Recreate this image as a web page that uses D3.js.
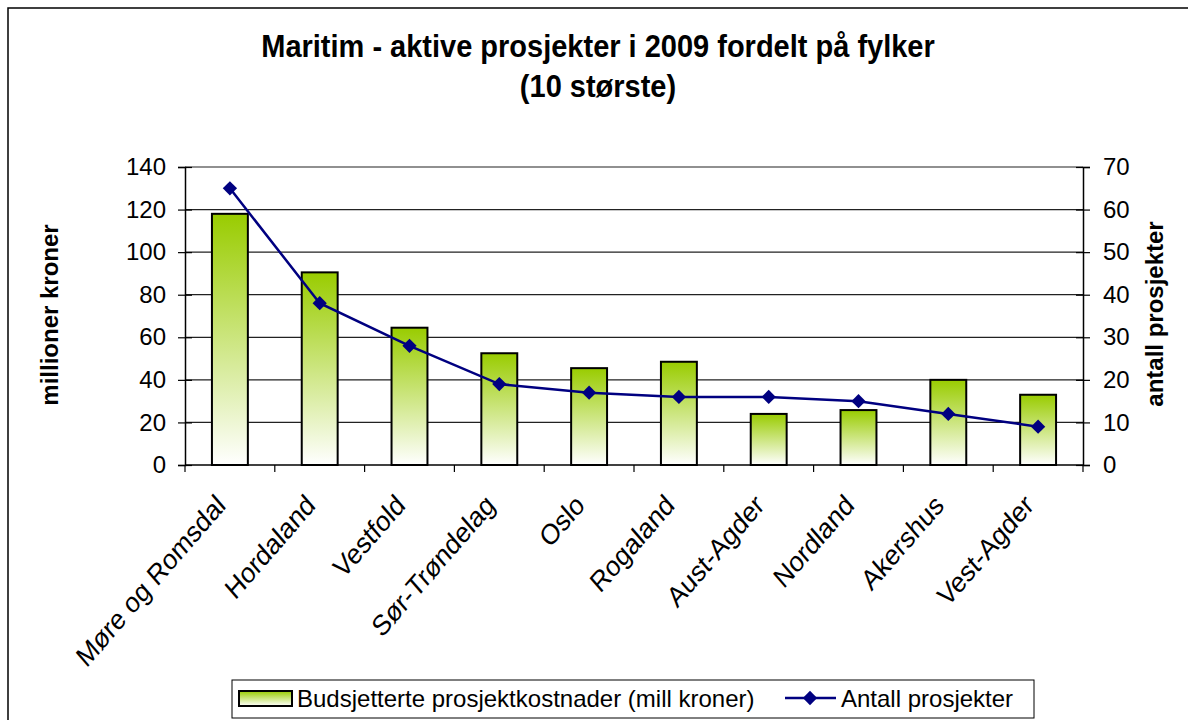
<!DOCTYPE html>
<html>
<head>
<meta charset="utf-8">
<script src="https://cdn.jsdelivr.net/npm/d3@7"></script>
<style>
  body { margin: 0; background: #fff; }
  text { font-family: Arial, "Liberation Sans", sans-serif; }
</style>
</head>
<body>
<div class="chart"></div>
<script>
const fylker = ['Møre og Romsdal','Hordaland','Vestfold','Sør-Trøndelag','Oslo','Rogaland','Aust-Agder','Nordland','Akershus','Vest-Agder'];
const kostnader = [118, 90.5, 64.5, 52.5, 45.5, 48.5, 24, 25.8, 40, 33];
const antall = [65, 38, 28, 19, 17, 16, 16, 15, 12, 9];
const leftTicks = [0, 20, 40, 60, 80, 100, 120, 140];
const rightTicks = [0, 10, 20, 30, 40, 50, 60, 70];

const W = 1188, H = 720;
let margin = {top: 167, left: 185, right: 105, bottom: 255};
const width = W - margin.left - margin.right,
height = H - margin.top - margin.bottom;

const svg = d3.select('.chart').append('svg')
  .attr('width', W)
  .attr('height', H);

// gradient for the bars
const grad = svg.append('defs').append('linearGradient')
  .attr('id', 'barGrad')
  .attr('x1', 0).attr('y1', 0).attr('x2', 0).attr('y2', 1);
grad.append('stop').attr('offset', '0%').attr('stop-color', '#99cc00');
grad.append('stop').attr('offset', '100%').attr('stop-color', '#ffffff');

// outer frame
svg.append('rect')
  .attr('x', 8).attr('y', 8)
  .attr('width', W + 20).attr('height', H + 20)
  .attr('fill', 'none')
  .attr('stroke', '#000')
  .attr('stroke-width', 1.5);

// title (text in the original is slightly stretched vertically)
svg.append('text')
  .attr('transform', 'translate(598,57) scale(1,1.08)')
  .attr('text-anchor', 'middle')
  .style('font-size', '29px').style('font-weight', 'bold')
  .text('Maritim - aktive prosjekter i 2009 fordelt på fylker');
svg.append('text')
  .attr('transform', 'translate(598,97) scale(1,1.08)')
  .attr('text-anchor', 'middle')
  .style('font-size', '29px').style('font-weight', 'bold')
  .text('(10 største)');

const g = svg.append('g')
  .attr('transform', `translate(${margin.left},${margin.top})`);

let xScale = d3.scaleBand()
  .domain(fylker)
  .range([0, width])
  .paddingInner(0.6)
  .paddingOuter(0.3);

let yScale = d3.scaleLinear().domain([0, 140]).range([height, 0]);
let y2Scale = d3.scaleLinear().domain([0, 70]).range([height, 0]);

// gridlines
g.append('g')
  .selectAll('line')
  .data(leftTicks.slice(1))
  .enter()
  .append('line')
  .attr('x1', 0).attr('x2', width)
  .attr('y1', d => yScale(d)).attr('y2', d => yScale(d))
  .attr('stroke', '#222')
  .attr('stroke-width', 1.2);

// bars
g.append('g')
  .selectAll('rect')
  .data(fylker)
  .enter()
  .append('rect')
  .attr('x', d => xScale(d))
  .attr('y', (d, i) => yScale(kostnader[i]))
  .attr('width', xScale.bandwidth())
  .attr('height', (d, i) => height - yScale(kostnader[i]))
  .attr('fill', 'url(#barGrad)')
  .attr('stroke', '#000')
  .attr('stroke-width', 2);

// axes
let yAxis = d3.axisLeft(yScale).tickValues(leftTicks).tickSize(7).tickPadding(12);
let y2Axis = d3.axisRight(y2Scale).tickValues(rightTicks).tickSize(7).tickPadding(13);

const ya = g.append('g').attr('class', 'axis y-axis').call(yAxis);
ya.selectAll('.tick line').attr('x1', 7);
const y2a = g.append('g').attr('class', 'axis y2-axis')
  .attr('transform', `translate(${width},0)`)
  .call(y2Axis);
y2a.selectAll('.tick line').attr('x1', -7);

[ya, y2a].forEach(a => {
  a.select('.domain').attr('stroke', '#000').attr('stroke-width', 1.5);
  a.selectAll('.tick line').attr('stroke', '#000').attr('stroke-width', 1.2);
  a.selectAll('text').style('font-size', '24px').attr('fill', '#000').attr('font-family', null);
});

// category axis with ticks on the band boundaries
const step = xScale.step();
const bounds = d3.range(fylker.length + 1).map(i => i * step);
g.append('line')
  .attr('x1', 0).attr('x2', width)
  .attr('y1', height).attr('y2', height)
  .attr('stroke', '#000').attr('stroke-width', 1.5);
g.append('g')
  .selectAll('line')
  .data(bounds)
  .enter()
  .append('line')
  .attr('x1', d => d).attr('x2', d => d)
  .attr('y1', height).attr('y2', height + 7)
  .attr('stroke', '#000').attr('stroke-width', 1.2);

g.append('g')
  .selectAll('text')
  .data(fylker)
  .enter()
  .append('text')
  .attr('transform', d => `translate(${xScale(d) + xScale.bandwidth() / 2 - 3},${height + 42}) scale(1,1.15) rotate(-45)`)
  .attr('text-anchor', 'end')
  .style('font-size', '25px')
  .text(d => d);

// line series
const line = d3.line()
  .x((d, i) => xScale(fylker[i]) + xScale.bandwidth() / 2)
  .y(d => y2Scale(d));

g.append('path')
  .datum(antall)
  .attr('d', line)
  .attr('fill', 'none')
  .attr('stroke', '#000080')
  .attr('stroke-width', 2.5);

const diamond = d3.symbol().type(d3.symbolDiamond2).size(130);
g.append('g')
  .selectAll('path')
  .data(antall)
  .enter()
  .append('path')
  .attr('d', diamond)
  .attr('transform', (d, i) => `translate(${xScale(fylker[i]) + xScale.bandwidth() / 2},${y2Scale(d)})`)
  .attr('fill', '#000080');

// axis titles
svg.append('text')
  .attr('transform', 'translate(58,315) rotate(-90)')
  .attr('text-anchor', 'middle')
  .style('font-size', '24px').style('font-weight', 'bold')
  .text('millioner kroner');
svg.append('text')
  .attr('transform', 'translate(1163,314) rotate(-90)')
  .attr('text-anchor', 'middle')
  .style('font-size', '24px').style('font-weight', 'bold')
  .text('antall prosjekter');

// legend
const legend = svg.append('g');
legend.append('rect')
  .attr('x', 232).attr('y', 680)
  .attr('width', 802).attr('height', 38)
  .attr('fill', '#fff').attr('stroke', '#000').attr('stroke-width', 1);
legend.append('rect')
  .attr('x', 239).attr('y', 691)
  .attr('width', 53).attr('height', 15)
  .attr('fill', 'url(#barGrad)').attr('stroke', '#000').attr('stroke-width', 2);
legend.append('text')
  .attr('x', 297).attr('y', 707)
  .style('font-size', '24px')
  .text('Budsjetterte prosjektkostnader (mill kroner)');
legend.append('line')
  .attr('x1', 785).attr('x2', 836)
  .attr('y1', 698).attr('y2', 698)
  .attr('stroke', '#000080').attr('stroke-width', 2.5);
legend.append('path')
  .attr('d', diamond)
  .attr('transform', 'translate(810,698)')
  .attr('fill', '#000080');
legend.append('text')
  .attr('x', 841).attr('y', 707)
  .style('font-size', '24px')
  .text('Antall prosjekter');
</script>
</body>
</html>
